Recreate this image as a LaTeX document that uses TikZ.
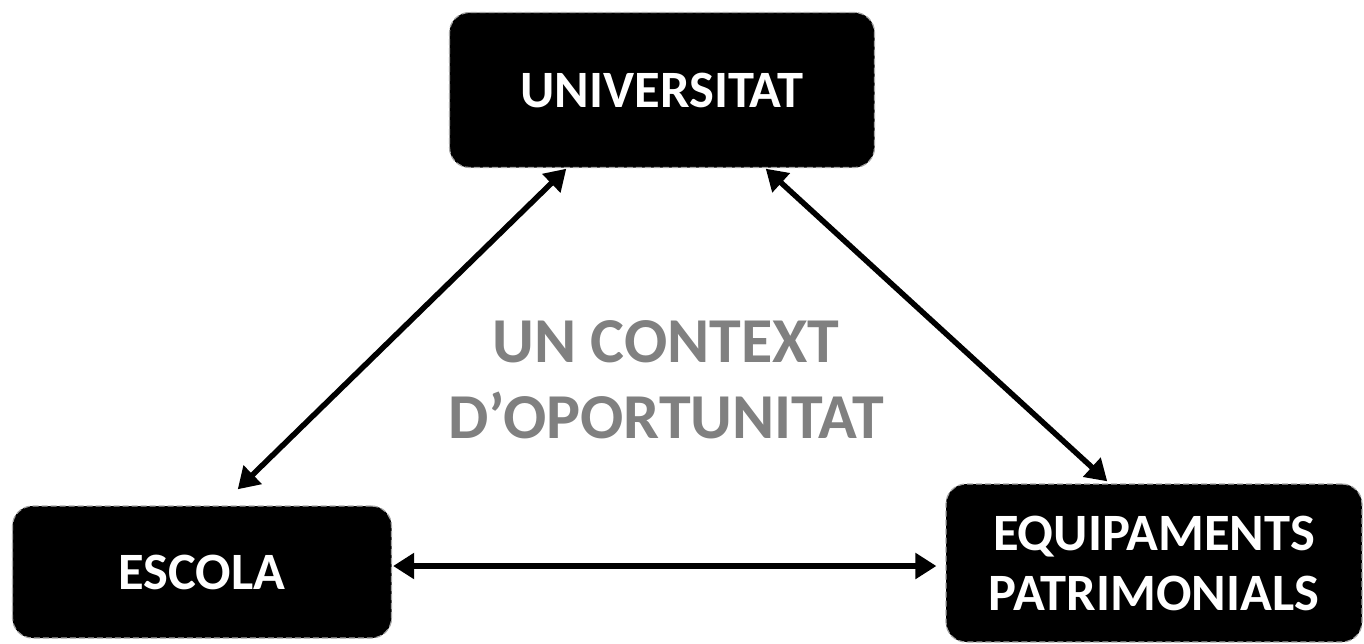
\documentclass[tikz,border=0pt]{standalone}
\usepackage{fontspec}
\setmainfont{Carlito}
\usetikzlibrary{arrows.meta}
\definecolor{midgrey}{RGB}{128,128,128}
\begin{document}
\begin{tikzpicture}[x=1pt,y=-1pt,
  boxnode/.style={fill=black, draw=gray!70, dash pattern=on 6pt off 3pt, line width=1.2pt,
    rounded corners=20pt, text=white, font=\bfseries\fontsize{52.5}{60}\selectfont, align=center, inner sep=0pt},
  link/.style={line width=5.5pt, {Triangle[length=21pt,width=25pt]}-{Triangle[length=21pt,width=25pt]}, shorten <=1pt, shorten >=1pt},
  ctx/.style={text=midgrey, font=\bfseries\fontsize{64}{76}\selectfont, align=center}]
\useasboundingbox (0,0) rectangle (1364,643);
\node[boxnode, minimum width=425pt, minimum height=155pt] (uni) at (662,90) {UNIVERSITAT};
\node[boxnode, minimum width=379pt, minimum height=132pt] (esc) at (202,572) {ESCOLA};
\node[boxnode, minimum width=416pt, minimum height=158pt] (equ) at (1154,563) {EQUIPAMENTS\\PATRIMONIALS};
\node[ctx] (ctx) at (666,380) {UN CONTEXT\\D’OPORTUNITAT};
\coordinate (a1) at (237,490);
\coordinate (a2) at (567,168);
\coordinate (b1) at (765,168);
\coordinate (b2) at (1108,482);
\coordinate (h1) at ([yshift=6pt]esc.east);
\coordinate (h2) at ([xshift=-8pt]equ.west |- h1);
\draw[link] (a1) -- (a2);
\draw[link] (b1) -- (b2);
\draw[link] (h1) -- (h2);
\end{tikzpicture}
\end{document}
